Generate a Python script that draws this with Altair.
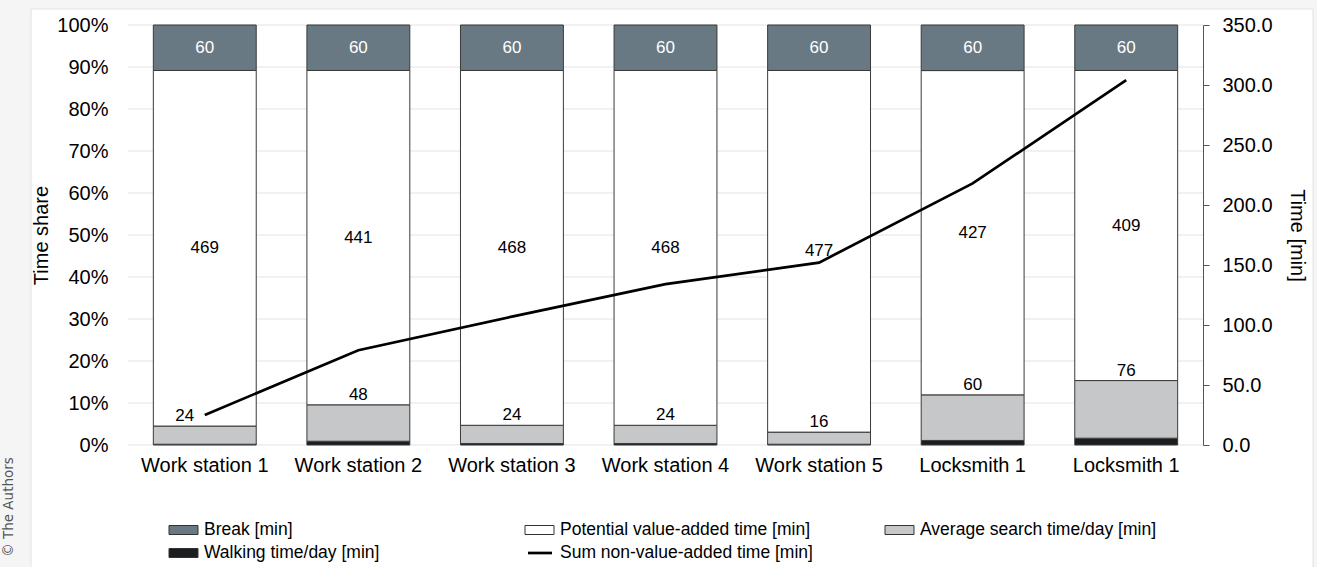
import json
import altair as alt
import pandas as pd

# ---------------- data ----------------
stations = ["Work station 1", "Work station 2", "Work station 3", "Work station 4",
            "Work station 5", "Locksmith 1", "Locksmith 1"]
break_min = [60, 60, 60, 60, 60, 60, 60]
potential_min = [469, 441, 468, 468, 477, 427, 409]
search_min = [24, 48, 24, 24, 16, 60, 76]
walking_min = [1, 5, 2, 2, 1, 6, 9]
sum_nva_min = [25, 79, 107, 134, 152, 218, 304]

series = ["Walking time/day [min]", "Average search time/day [min]",
          "Potential value-added time [min]", "Break [min]"]
line_name = "Sum non-value-added time [min]"
colors = ["#1b1d1f", "#c6c7c9", "#ffffff", "#687983"]

left_ticks = [i / 10 for i in range(11)]
right_ticks = [0, 50, 100, 150, 200, 250, 300, 350]

# ---------------- tables ----------------
rows = []
for i, st in enumerate(stations):
    vals = [walking_min[i], search_min[i], potential_min[i], break_min[i]]
    tot = sum(vals)
    cum = 0
    for k, (s, v) in enumerate(zip(series, vals)):
        lo = cum / tot
        cum += v
        hi = cum / tot
        rows.append({"idx": i, "series": s, "order": k, "value": v,
                     "lo": lo, "hi": hi, "mid": (lo + hi) / 2})
bars_df = pd.DataFrame(rows)
line_df = pd.DataFrame({"idx": list(range(len(stations))), "sum": sum_nva_min})
grid_df = pd.DataFrame({"g": left_ticks})
one = pd.DataFrame({"a": [0]})

FONT = "Liberation Sans"
AX = 20      # axis label / title size
DL = 17      # data label size
LG = 17.5    # legend text size
label_expr = json.dumps(stations) + "[datum.value]"

xscale = alt.Scale(paddingInner=0.33, paddingOuter=0.165)
xaxis = alt.Axis(title=None, labelExpr=label_expr, labelAngle=0, domain=False,
                 ticks=False, labelPadding=10, labelFontSize=AX, labelColor="#000",
                 labelFont=FONT, zindex=1)
yscale = alt.Scale(domain=[0, 1], nice=False)
yaxis = alt.Axis(title="Time share", format=".0%", values=left_ticks, grid=False,
                 domain=False, ticks=False, labelPadding=20, labelFontSize=AX,
                 labelColor="#000", titleFontSize=AX, titleColor="#000",
                 titleFontWeight="normal", titlePadding=5, labelFont=FONT, titleFont=FONT,
                 zindex=1)

grid = alt.Chart(grid_df).mark_rule(color="#e3e3e3", strokeWidth=1).encode(
    y=alt.Y("g:Q", scale=yscale, axis=yaxis)
)

bars = alt.Chart(bars_df).mark_bar(stroke="#3a3a3a", strokeWidth=1).encode(
    x=alt.X("idx:O", scale=xscale, axis=xaxis),
    y=alt.Y("lo:Q", scale=yscale, axis=yaxis),
    y2="hi:Q",
    fill=alt.Fill("series:N", scale=alt.Scale(domain=series, range=colors), legend=None),
    order=alt.Order("order:Q"),
)

t_break = alt.Chart(bars_df).transform_filter(alt.datum.series == series[3]).mark_text(
    color="white", fontSize=DL, font=FONT, baseline="middle"
).encode(x=alt.X("idx:O", scale=xscale, axis=xaxis),
         y=alt.Y("mid:Q", scale=yscale), text="value:Q")

t_pot = alt.Chart(bars_df).transform_filter(alt.datum.series == series[2]).mark_text(
    color="black", fontSize=DL, font=FONT, baseline="middle"
).encode(x=alt.X("idx:O", scale=xscale, axis=xaxis),
         y=alt.Y("mid:Q", scale=yscale), text="value:Q")

t_search = alt.Chart(bars_df).transform_filter(
    (alt.datum.series == series[1]) & (alt.datum.idx > 0)
).mark_text(
    color="black", fontSize=DL, font=FONT, baseline="bottom", dy=-1
).encode(x=alt.X("idx:O", scale=xscale, axis=xaxis),
         y=alt.Y("hi:Q", scale=yscale), text="value:Q")

t_search0 = alt.Chart(bars_df).transform_filter(
    (alt.datum.series == series[1]) & (alt.datum.idx == 0)
).mark_text(
    color="black", fontSize=DL, font=FONT, baseline="bottom", dy=-1, dx=-20
).encode(x=alt.X("idx:O", scale=xscale, axis=xaxis),
         y=alt.Y("hi:Q", scale=yscale), text="value:Q")

left_layer = alt.layer(grid, bars, t_break, t_pot, t_search, t_search0)

raxis = alt.Axis(title="Time [min]", orient="right", format=".1f", values=right_ticks,
                 grid=False, domain=True, domainColor="#555", ticks=True, tickColor="#555",
                 tickSize=6, labelPadding=13, labelFontSize=AX, labelColor="#000",
                 titleFontSize=AX, titleColor="#000", titleFontWeight="normal",
                 titlePadding=14, labelFont=FONT, titleFont=FONT, zindex=1)
line = alt.Chart(line_df).mark_line(color="black", strokeWidth=2.7).encode(
    x=alt.X("idx:O", scale=xscale, axis=xaxis),
    y=alt.Y("sum:Q", scale=alt.Scale(domain=[0, 350], nice=False), axis=raxis),
)

# background card
OX, OY = 128, 25  # plot origin in the page
card = alt.Chart(one).mark_rect(fill="white", stroke="#e2e2e2").encode(
    x=alt.value(31 - OX), x2=alt.value(1313 - OX),
    y=alt.value(9 - OY), y2=alt.value(570 - OY),
)

copyright_txt = alt.Chart(one).mark_text(
    text="© The Authors", angle=270, fontSize=13.5, font="DejaVu Sans", color="#555",
    baseline="middle", align="center"
).encode(x=alt.value(9 - OX), y=alt.value(507 - OY))

# manual legend
legend_layers = []
entries = [
    (series[3], 169, 530, "rect"),
    (series[0], 169, 553, "rect"),
    (series[2], 525, 530, "rect"),
    (line_name, 525, 553, "line"),
    (series[1], 885, 530, "rect"),
]
for name, sx, sy, kind in entries:
    if kind == "rect":
        col = colors[series.index(name)]
        legend_layers.append(alt.Chart(one).mark_rect(fill=col, stroke="#333", strokeWidth=1).encode(
            x=alt.value(sx - OX), x2=alt.value(sx + 29 - OX),
            y=alt.value(sy - 4.5 - OY), y2=alt.value(sy + 4.5 - OY)))
    else:
        legend_layers.append(alt.Chart(one).mark_rule(color="black", strokeWidth=2.7).encode(
            x=alt.value(sx + 3 - OX), x2=alt.value(sx + 27 - OX), y=alt.value(sy - OY)))
    legend_layers.append(alt.Chart(one).mark_text(
        text=name, fontSize=LG, font=FONT, color="#000", align="left", baseline="middle"
    ).encode(x=alt.value(sx + 35 - OX), y=alt.value(sy - OY)))

chart = alt.layer(card, left_layer, line, copyright_txt, *legend_layers).resolve_scale(
    y="independent"
).properties(
    width=1075, height=420,
    padding={"left": OX, "top": OY, "right": 1317 - OX - 1075, "bottom": 567 - OY - 420},
    autosize="none",
).configure(background="#f5f5f5").configure_view(stroke=None)

chart.save("out.html", embed_options={"renderer": "svg", "actions": False})
